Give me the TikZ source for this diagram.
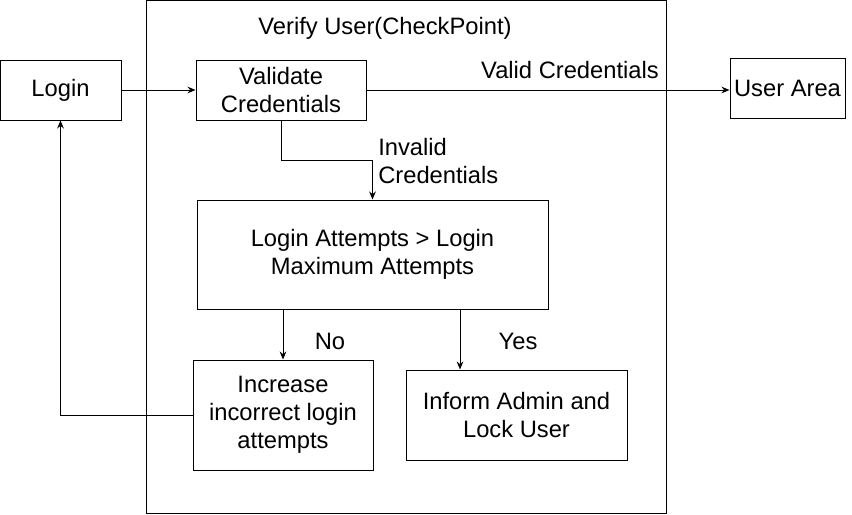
\documentclass[tikz,border=0pt]{standalone}
\usepackage{fontspec}
\setmainfont{Liberation Sans}
\usetikzlibrary{positioning, arrows.meta, calc}

\begin{document}
\begin{tikzpicture}[
    x=0.75pt, y=-0.75pt,
    every node/.style={font=\fontsize{17.8}{21}\selectfont},
    box/.style={
      draw, line width=0.75pt,
      align=center, inner sep=0pt,
    },
    flow/.style={
      -{Stealth[length=6pt,width=5pt]}, line width=0.75pt,
    },
    label/.style={
      align=left, inner sep=0pt,
    },
  ]
  \useasboundingbox (0,0) rectangle (852,514);

  \node[box, minimum width=390pt, minimum height=384.75pt] (check) at (406,256.5) {};
  \node[label] (title) at (385,28) {Verify User(CheckPoint)};

  \node[box, minimum width=90.75pt, minimum height=45pt] (login) at (60.5,90) {Login};
  \node[box, minimum width=127.5pt, minimum height=45pt] (validate) at (281,90) {Validate\\Credentials};
  \node[box, minimum width=86.25pt, minimum height=45pt] (userarea) at (787.5,88) {User Area};
  \node[box, minimum width=263.25pt, minimum height=81.75pt] (decision) at (372.5,254.5) {Login Attempts > Login\\Maximum Attempts};
  \node[box, minimum width=135pt, minimum height=82.5pt] (increase) at (283,415) {Increase\\incorrect login\\attempts};
  \node[box, minimum width=165.75pt, minimum height=67.5pt] (inform) at (516.5,415) {Inform Admin and\\Lock User};

  \draw[flow] (login) -- (validate);
  \draw[flow] (validate.east) -- (validate.east -| userarea.west);
  \draw[flow] (validate.south) -- ++(0,40) -| (decision.north);
  \draw[flow] (increase.north |- decision.south) -- (increase.north);
  \draw[flow] ($(decision.south)+(87.5,0)$) coordinate (yesdrop) -- (yesdrop |- inform.north);
  \draw[flow] (increase.west) -| (login.south);

  \node[label] (valid) at (570,70) {Valid Credentials};
  \node[label, anchor=west] (invalid) at (378,161.5) {Invalid\\Credentials};
  \node[label] (no) at (330,341) {No};
  \node[label] (yes) at (518,341) {Yes};
\end{tikzpicture}
\end{document}
